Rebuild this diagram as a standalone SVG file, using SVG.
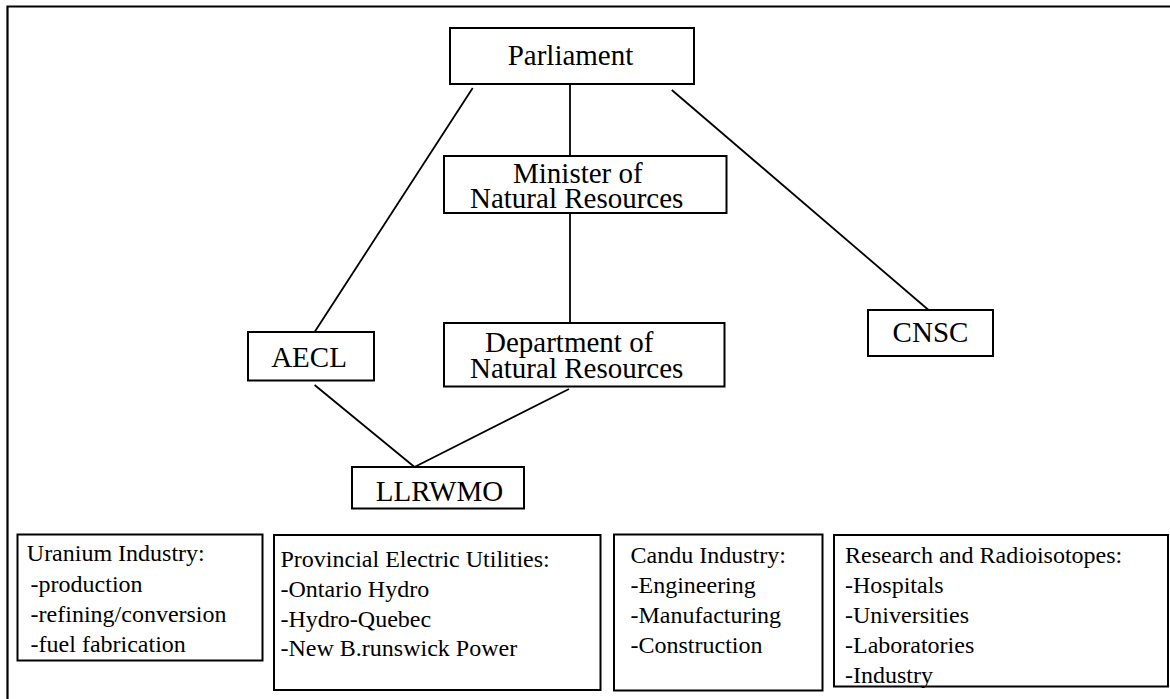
<svg xmlns="http://www.w3.org/2000/svg" width="1170" height="699" viewBox="0 0 1170 699">
<style>
.box{fill:#fff;stroke:#000;stroke-width:2}
.con line{stroke:#000;stroke-width:1.8}
text{font-family:"Liberation Serif","Times New Roman",serif;fill:#000}
.big{font-size:29px}
.small{font-size:24px}
.mid{text-anchor:middle}
</style>
<rect width="1170" height="699" fill="#fff"/>
<path d="M7.5,699 V6.5 H1170" fill="none" stroke="#000" stroke-width="2.2"/>
<g id="connectors" class="con">
<line x1="570" y1="84" x2="570" y2="156"/>
<line x1="570" y1="214" x2="570" y2="323"/>
<line x1="472.7" y1="88" x2="314.6" y2="332"/>
<line x1="671.8" y1="90" x2="929.7" y2="311"/>
<line x1="314.6" y1="385" x2="414.5" y2="467"/>
<line x1="569" y1="389" x2="414.5" y2="467"/>
</g>
<g id="parliament">
<rect class="box" x="450" y="28" width="244" height="56"/>
<text class="big mid" x="570.5" y="65">Parliament</text>
</g>
<g id="minister">
<rect class="box" x="444" y="156" width="282.5" height="57"/>
<text class="big" x="513" y="183">Minister of</text>
<text class="big" x="470" y="208">Natural Resources</text>
</g>
<g id="department">
<rect class="box" x="444" y="323" width="280.5" height="63.5"/>
<text class="big" x="485" y="352">Department of</text>
<text class="big" x="470" y="378">Natural Resources</text>
</g>
<g id="aecl">
<rect class="box" x="248" y="332" width="126" height="48.5"/>
<text class="big mid" x="309" y="367">AECL</text>
</g>
<g id="cnsc">
<rect class="box" x="868" y="310" width="125" height="46"/>
<text class="big mid" x="930.5" y="342">CNSC</text>
</g>
<g id="llrwmo">
<rect class="box" x="352" y="467" width="172" height="41.5"/>
<text class="big mid" x="439.5" y="501">LLRWMO</text>
</g>
<g id="uranium">
<rect class="box" x="17.5" y="534.5" width="245" height="126"/>
<text class="small" x="26.8" y="561">Uranium Industry:</text>
<text class="small" x="30.6" y="591.5">-production</text>
<text class="small" x="30.6" y="622">-refining/conversion</text>
<text class="small" x="30.6" y="652">-fuel fabrication</text>
</g>
<g id="provincial">
<rect class="box" x="274" y="535" width="326.5" height="155"/>
<text class="small" x="280.5" y="566.5">Provincial Electric Utilities:</text>
<text class="small" x="280.5" y="596.5">-Ontario Hydro</text>
<text class="small" x="280.5" y="626.5">-Hydro-Quebec</text>
<text class="small" x="280.5" y="656">-New B.runswick Power</text>
</g>
<g id="candu">
<rect class="box" x="614" y="534.5" width="208.5" height="156"/>
<text class="small" x="630.5" y="562.5">Candu Industry:</text>
<text class="small" x="630.5" y="593">-Engineering</text>
<text class="small" x="630.5" y="623">-Manufacturing</text>
<text class="small" x="630.5" y="653">-Construction</text>
</g>
<g id="research">
<text class="small" x="845" y="562.5">Research and Radioisotopes:</text>
<text class="small" x="845" y="593">-Hospitals</text>
<text class="small" x="845" y="623">-Universities</text>
<text class="small" x="845" y="653">-Laboratories</text>
<text class="small" x="845" y="683">-Industry</text>
<rect class="box" x="834" y="535" width="334" height="151.5" fill="none" style="fill:none"/>
</g>
</svg>
